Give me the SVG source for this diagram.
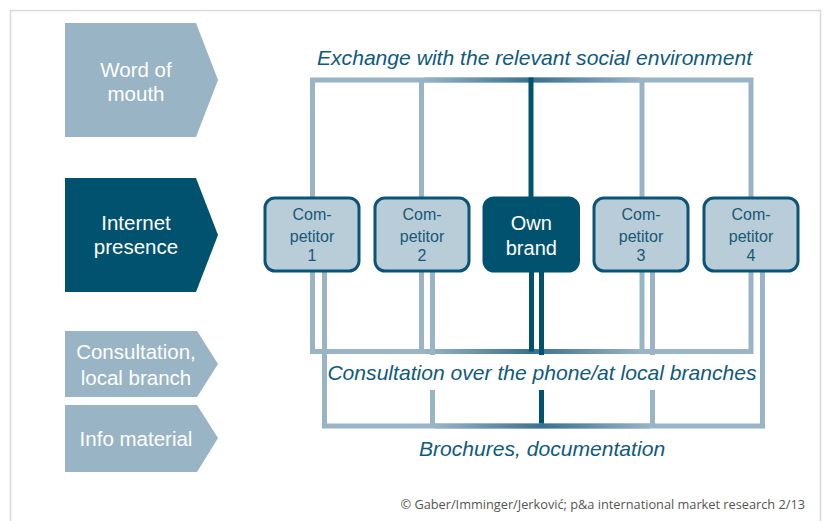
<svg xmlns="http://www.w3.org/2000/svg" width="824" height="521" viewBox="0 0 824 521">
  <defs>
    <style>
      .frame { fill: none; stroke: #d9d9d9; stroke-width: 1.5; }
      .tab-light { fill: #98b4c5; }
      .tab-dark { fill: #00526f; }
      .tab-text { font-family: "Liberation Sans", Arial, sans-serif; font-size: 20.5px; fill: #ffffff; text-anchor: middle; }
      .comp { fill: #b8cdd7; stroke: #0c5475; stroke-width: 3; }
      .own { fill: #00526f; stroke: #00526f; stroke-width: 3; }
      .comp-text { font-family: "Liberation Sans", Arial, sans-serif; font-size: 16px; fill: #185877; text-anchor: middle; }
      .own-text { font-family: "Liberation Sans", Arial, sans-serif; font-size: 20px; fill: #ffffff; text-anchor: middle; }
      .channel { font-family: "Liberation Sans", Arial, sans-serif; font-size: 21.1px; font-style: italic; fill: #0f5a7e; text-anchor: middle; }
      .credit { font-family: "Open Sans", "DejaVu Sans", sans-serif; font-size: 12.75px; fill: #555555; text-anchor: end; }
      .ln { fill: none; stroke: #98b4c5; stroke-width: 5; stroke-linejoin: miter; stroke-linecap: butt; }
      .ln-dark { fill: none; stroke: #00526f; stroke-width: 5; stroke-linecap: butt; }
    </style>
    <linearGradient id="midA" gradientUnits="userSpaceOnUse" x1="424" y1="0" x2="640" y2="0">
      <stop offset="0" stop-color="#98b4c5"/>
      <stop offset="0.5" stop-color="#3a7090"/>
      <stop offset="1" stop-color="#98b4c5"/>
    </linearGradient>
    <linearGradient id="midB" gradientUnits="userSpaceOnUse" x1="435" y1="0" x2="650" y2="0">
      <stop offset="0" stop-color="#98b4c5"/>
      <stop offset="0.5" stop-color="#3a7090"/>
      <stop offset="1" stop-color="#98b4c5"/>
    </linearGradient>
  </defs>

  <rect class="frame" x="10.5" y="10.5" width="810" height="540"/>

  <!-- channel tabs on the left -->
  <g id="tab-word-of-mouth">
    <polygon class="tab-light" points="65,23 196,23 218,80 196,137 65,137"/>
    <text class="tab-text" x="136" y="76.5">Word of</text>
    <text class="tab-text" x="136" y="101">mouth</text>
  </g>
  <g id="tab-internet">
    <polygon class="tab-dark" points="65,178 196,178 218,235 196,292 65,292"/>
    <text class="tab-text" x="136" y="230">Internet</text>
    <text class="tab-text" x="136" y="254">presence</text>
  </g>
  <g id="tab-consultation">
    <polygon class="tab-light" points="65,331 197,331 218,364 197,397 65,397"/>
    <text class="tab-text" x="136" y="359">Consultation,</text>
    <text class="tab-text" x="136" y="385">local branch</text>
  </g>
  <g id="tab-info">
    <polygon class="tab-light" points="65,405 197,405 218,438 197,472 65,472"/>
    <text class="tab-text" x="136" y="446">Info material</text>
  </g>

  <!-- connectors -->
  <g id="connectors">
    <!-- social environment bracket -->
    <path class="ln" d="M312.5,200 V80 H751 V200"/>
    <line x1="424" y1="80" x2="640" y2="80" stroke="url(#midA)" stroke-width="5"/>
    <line class="ln" x1="421.5" y1="80" x2="421.5" y2="200"/>
    <line class="ln" x1="642" y1="80" x2="642" y2="200"/>
    <line class="ln-dark" x1="531" y1="77.5" x2="531" y2="200"/>

    <!-- phone / local branch bracket -->
    <path class="ln" d="M312.5,270 V351.5 H751 V270"/>
    <line x1="424" y1="351.5" x2="640" y2="351.5" stroke="url(#midA)" stroke-width="5"/>
    <line class="ln" x1="421.5" y1="270" x2="421.5" y2="351.5"/>
    <line class="ln" x1="642" y1="270" x2="642" y2="351.5"/>
    <line class="ln-dark" x1="531.5" y1="270" x2="531.5" y2="351.5"/>

    <!-- brochures bracket -->
    <path class="ln" d="M324.5,270 V426 H762.5 V270"/>
    <line x1="435" y1="426" x2="650" y2="426" stroke="url(#midB)" stroke-width="5"/>
    <line class="ln" x1="432.5" y1="270" x2="432.5" y2="426"/>
    <line class="ln" x1="652.5" y1="270" x2="652.5" y2="426"/>
    <line class="ln-dark" x1="541.5" y1="270" x2="541.5" y2="423.5"/>
  </g>

  <!-- channel labels -->
  <g id="label-social">
    <text class="channel" x="534.5" y="65">Exchange with the relevant social environment</text>
  </g>
  <g id="label-phone">
    <rect x="328" y="355" width="431" height="35" fill="#ffffff"/>
    <text class="channel" x="542" y="380">Consultation over the phone/at local branches</text>
  </g>
  <g id="label-brochures">
    <text class="channel" x="542" y="456">Brochures, documentation</text>
  </g>

  <!-- brand boxes -->
  <g id="competitor-1">
    <rect class="comp" x="265" y="198" width="94" height="73" rx="10"/>
    <text class="comp-text" x="312" y="220">Com-</text>
    <text class="comp-text" x="312" y="241.5">petitor</text>
    <text class="comp-text" x="312" y="261">1</text>
  </g>
  <g id="competitor-2">
    <rect class="comp" x="375" y="198" width="94" height="73" rx="10"/>
    <text class="comp-text" x="422" y="220">Com-</text>
    <text class="comp-text" x="422" y="241.5">petitor</text>
    <text class="comp-text" x="422" y="261">2</text>
  </g>
  <g id="own-brand">
    <rect class="own" x="484" y="198" width="94.5" height="73" rx="10"/>
    <text class="own-text" x="531.3" y="230">Own</text>
    <text class="own-text" x="531.3" y="255">brand</text>
  </g>
  <g id="competitor-3">
    <rect class="comp" x="594" y="198" width="94" height="73" rx="10"/>
    <text class="comp-text" x="641" y="220">Com-</text>
    <text class="comp-text" x="641" y="241.5">petitor</text>
    <text class="comp-text" x="641" y="261">3</text>
  </g>
  <g id="competitor-4">
    <rect class="comp" x="704" y="198" width="94" height="73" rx="10"/>
    <text class="comp-text" x="751" y="220">Com-</text>
    <text class="comp-text" x="751" y="241.5">petitor</text>
    <text class="comp-text" x="751" y="261">4</text>
  </g>

  <text class="credit" x="805" y="509">© Gaber/Imminger/Jerković; p&amp;a international market research 2/13</text>
</svg>
